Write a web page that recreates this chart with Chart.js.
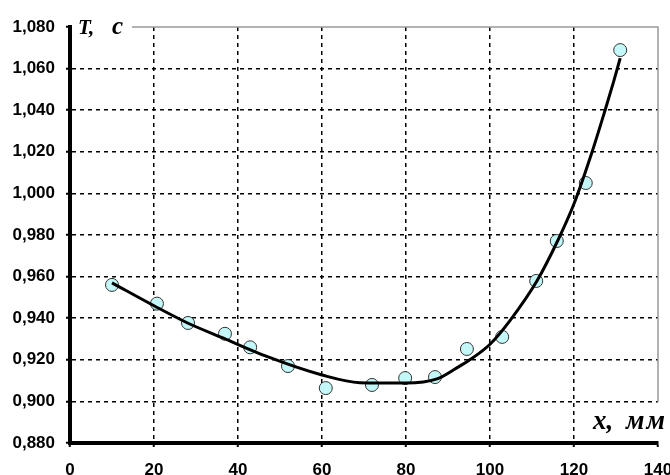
<!DOCTYPE html>
<html>
<head>
<meta charset="utf-8">
<script src="https://cdn.jsdelivr.net/npm/chart.js@4"></script>
<style>
  body { margin: 0; background: #fff; }
</style>
</head>
<body>
<canvas id="chart" width="670" height="475"></canvas>
<script>
// measured points, x in mm, T in s
const pointX = [10, 20.7, 28.1, 36.9, 42.9, 51.9, 60.9, 71.9, 79.8, 86.9, 94.5, 102.9, 111, 115.9, 122.8, 131];
const pointT = [0.956, 0.947, 0.9377, 0.9325, 0.926, 0.917, 0.9064, 0.9079, 0.9112, 0.9117, 0.9252, 0.931, 0.9579, 0.9771, 1.005, 1.0689];

// trend curve
const curveX = [10, 20, 28, 36.4, 47, 60, 69, 80, 87.4, 92, 95.2, 100, 104.8, 111.2, 116.2, 120, 124.2, 127.4, 129.4, 131];
const curveT = [0.957, 0.946, 0.9377, 0.9305, 0.9215, 0.9127, 0.909, 0.9088, 0.9108, 0.916, 0.92, 0.9275, 0.939, 0.958, 0.9776, 0.995, 1.0193, 1.04, 1.0535, 1.065];

const xTicks = [0, 20, 40, 60, 80, 100, 120, 140];
const yTicks = [0.88, 0.9, 0.92, 0.94, 0.96, 0.98, 1.0, 1.02, 1.04, 1.06, 1.08];

const tickFont = { family: "'Liberation Sans', Arial, sans-serif", size: 17, weight: 'bold' };
const titleFont = "'Liberation Serif', 'Times New Roman', serif";

// grey frame on top/right plus the two axis titles
const frameAndTitles = {
    id: "frameAndTitles",
    afterDraw(chart) {
        const { ctx, chartArea: a } = chart;
        ctx.save();
        ctx.strokeStyle = "#999";
        ctx.lineWidth = 1.5;
        ctx.beginPath();
        ctx.moveTo(a.left + 62, a.top);
        ctx.lineTo(a.right, a.top);
        ctx.lineTo(a.right, a.bottom - 41);
        ctx.stroke();

        ctx.fillStyle = "#000";
        ctx.textBaseline = "alphabetic";
        ctx.font = "italic bold 21px " + titleFont;
        ctx.fillText("T,", a.left + 8, a.top + 7);
        ctx.font = "italic bold 25px " + titleFont;
        ctx.fillText("с", a.left + 42, a.top + 7);
        ctx.font = "italic bold 27px " + titleFont;
        ctx.fillText("x,", a.right - 65, a.bottom - 14);
        ctx.letterSpacing = "2px";
        ctx.fillText("мм", a.right - 32, a.bottom - 14);
        ctx.restore();
    }
};

const ctx = document.getElementById("chart").getContext("2d");

new Chart(ctx, {
    type: "scatter",
    data: {
        datasets: [
            {
                label: "trend",
                data: curveX.map((x, i) => ({ x: x, y: curveT[i] })),
                showLine: true,
                borderColor: "#000",
                borderWidth: 3,
                pointRadius: 0,
                cubicInterpolationMode: "monotone"
            },
            {
                label: "T",
                data: pointX.map((x, i) => ({ x: x, y: pointT[i] })),
                pointRadius: 6.5,
                pointBackgroundColor: "#c4f7f7",
                pointBorderColor: "#333",
                pointBorderWidth: 1
            }
        ]
    },
    options: {
        responsive: false,
        animation: false,
        devicePixelRatio: 1,
        layout: { padding: { top: 27, right: 12, left: 0, bottom: 0 } },
        plugins: {
            legend: { display: false },
            tooltip: { enabled: false }
        },
        scales: {
            x: {
                type: "linear",
                min: 0,
                max: 140,
                afterBuildTicks: s => { s.ticks = xTicks.map(v => ({ value: v })); },
                afterFit: s => { s.height = 32; s.paddingLeft = 0; s.paddingRight = 0; },
                ticks: { font: tickFont, color: "#000", padding: 13 },
                grid: {
                    color: c => (c.tick && c.tick.value >= 140) ? "rgba(0,0,0,0)" : "#000",
                    lineWidth: 1.5,
                    tickLength: 4,
                    tickColor: "#000",
                    tickWidth: 2
                },
                border: { display: true, color: "#000", width: 4, dash: [4, 4] }
            },
            y: {
                min: 0.88,
                max: 1.08,
                afterBuildTicks: s => { s.ticks = yTicks.map(v => ({ value: v })); },
                afterFit: s => { s.width = 70; },
                ticks: {
                    font: tickFont,
                    color: "#000",
                    padding: 11,
                    callback: v => v.toFixed(3).replace(".", ",")
                },
                grid: {
                    color: c => (c.tick && c.tick.value >= 1.0799) ? "rgba(0,0,0,0)" : "#000",
                    lineWidth: 1.5,
                    tickLength: 4,
                    tickColor: "#000",
                    tickWidth: 2
                },
                border: { display: true, color: "#000", width: 4, dash: [4, 4] }
            }
        }
    },
    plugins: [frameAndTitles]
});
</script>
</body>
</html>
